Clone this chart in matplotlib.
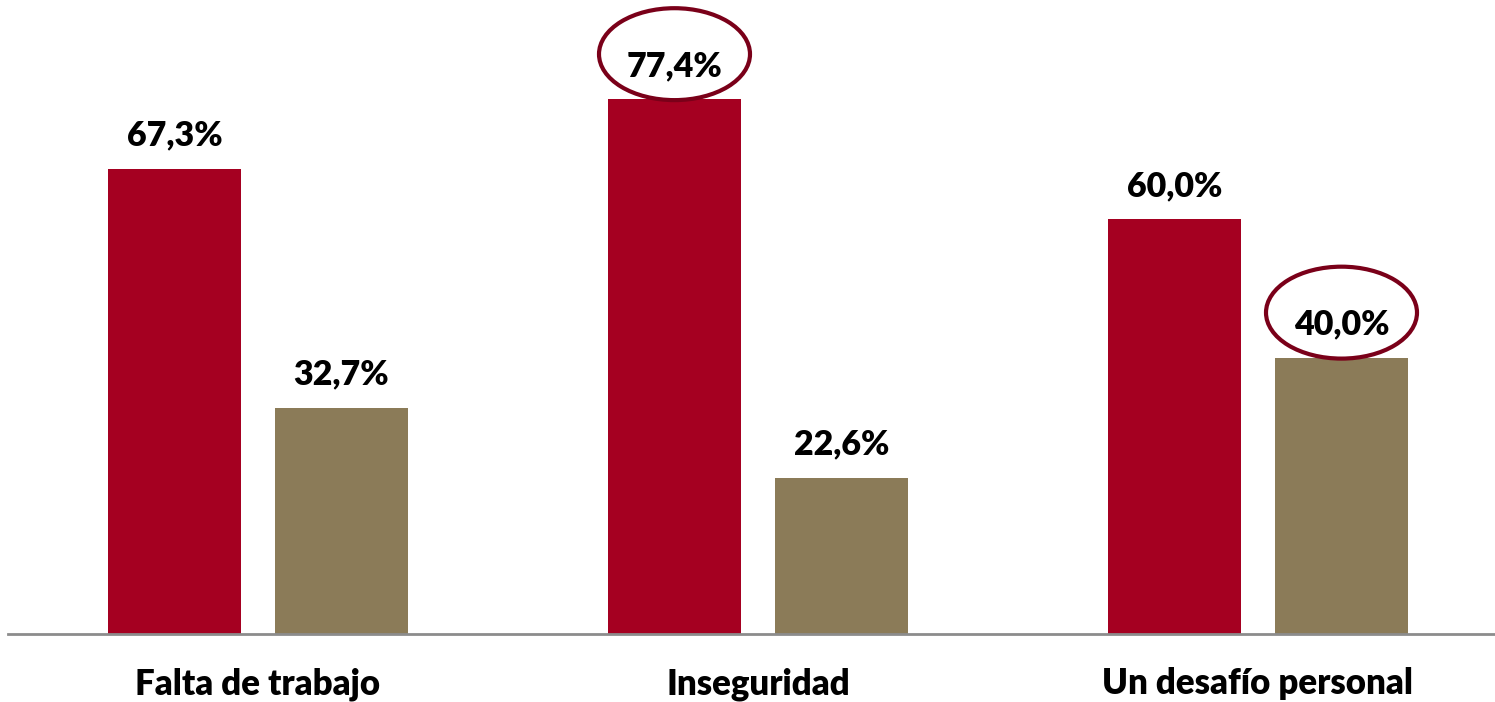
import matplotlib
matplotlib.use("Agg")
import matplotlib.pyplot as plt
from matplotlib.patches import Ellipse
import numpy as np

# data
categories = ["Falta de trabajo", "Inseguridad", "Un desafío personal"]
serie_a = [67.3, 77.4, 60.0]
serie_b = [32.7, 22.6, 40.0]
# (group index, series) pairs that get a circle around the label
destacados = [(1, 0), (2, 1)]

rojo = "#A50021"
marron = "#8B7B58"
aro = "#7A0019"

plt.rcParams["font.family"] = ["Lato", "DejaVu Sans"]

fig = plt.figure(figsize=(14.95, 7.02), dpi=100)
W, H = 1495.0, 702.0
# axes from x=8px to 1508px, baseline at y=634px
ax = fig.add_axes([8 / W, (H - 634) / H, 1500 / W, 622 / H])

x = np.arange(len(categories))
ancho = 0.266
desp = 0.167
ax.bar(x - desp, serie_a, ancho, color=rojo, zorder=2)
ax.bar(x + desp, serie_b, ancho, color=marron, zorder=2)

for series_idx, (vals, off) in enumerate(((serie_a, -desp), (serie_b, desp))):
    for i, v in enumerate(vals):
        ax.text(x[i] + off, v + 4.8, ("%.1f%%" % v).replace(".", ","),
                ha="center", va="center", fontsize=24.5, fontweight="heavy",
                color="black")
        if (i, series_idx) in destacados:
            ax.add_patch(Ellipse((x[i] + off, v + 6.5), 0.302, 13.3,
                                 fill=False, edgecolor=aro, linewidth=3,
                                 zorder=3, clip_on=False))

ax.set_xlim(-0.5, 2.5)
ax.set_ylim(0, 90)
for s in ("top", "right", "left"):
    ax.spines[s].set_visible(False)
ax.spines["bottom"].set_color("#8C8C8C")
ax.spines["bottom"].set_linewidth(2)
ax.set_yticks([])
ax.set_xticks(x)
ax.set_xticklabels(categories, fontsize=25, fontweight="heavy")
ax.tick_params(axis="x", length=0, pad=24)

fig.savefig("out.png", dpi=100)
